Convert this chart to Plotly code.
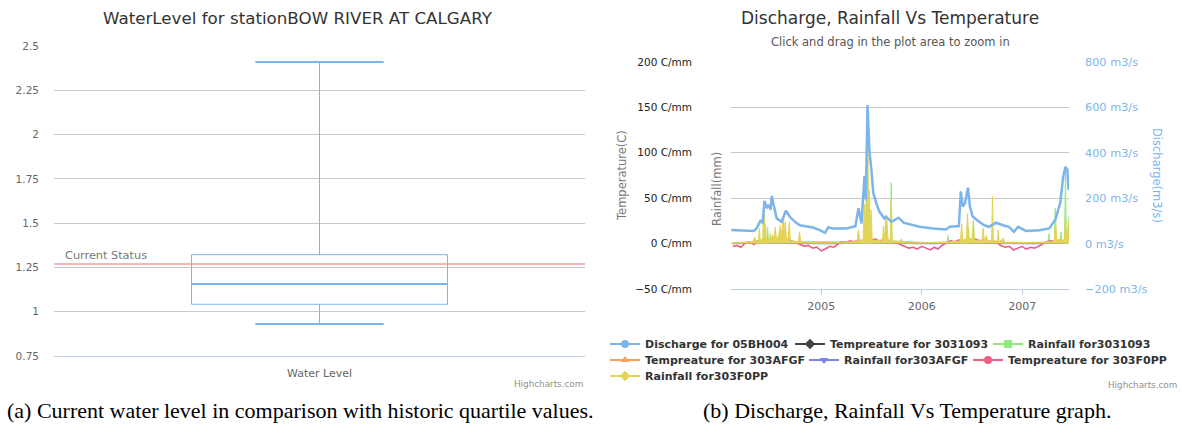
import plotly.graph_objects as go
import pandas as pd

# ---------------- Left chart: water level box plot ----------------
box_category = ["Water Level"]
wl_lower = [0.93]
wl_q1 = [1.042]
wl_median = [1.157]
wl_q3 = [1.322]
wl_upper = [2.41]
current_status = 1.27
wl_tickvals = [0.75, 1, 1.25, 1.5, 1.75, 2, 2.25, 2.5]
wl_ticktext = ["0.75", "1", "1.25", "1.5", "1.75", "2", "2.25", "2.5"]

# ---------------- Right chart: discharge / rainfall / temperature ----------------
discharge_dates = ["2004-02-09", "2004-04-30", "2004-05-11", "2004-05-26", "2004-06-02", "2004-06-09",
                   "2004-06-17", "2004-06-24", "2004-07-01", "2004-07-05", "2004-07-12", "2004-07-23",
                   "2004-08-10", "2004-08-25", "2004-09-09", "2004-09-27", "2004-10-15", "2004-11-10",
                   "2004-12-02", "2004-12-27", "2005-01-15", "2005-01-26", "2005-02-13", "2005-04-02",
                   "2005-05-05", "2005-05-16", "2005-05-27", "2005-06-07", "2005-06-12", "2005-06-18",
                   "2005-06-25", "2005-07-02", "2005-07-09", "2005-07-20", "2005-07-31", "2005-08-18",
                   "2005-08-24", "2005-09-13", "2005-10-09", "2005-10-27", "2005-11-29", "2005-12-24",
                   "2006-02-10", "2006-03-29", "2006-04-13", "2006-05-16", "2006-05-23", "2006-05-30",
                   "2006-06-07", "2006-06-18", "2006-06-25", "2006-07-05", "2006-07-24", "2006-08-15",
                   "2006-09-02", "2006-09-28", "2006-10-23", "2006-11-14", "2006-12-02", "2006-12-17",
                   "2007-01-15", "2007-03-04", "2007-04-09", "2007-05-01", "2007-05-19", "2007-05-30",
                   "2007-06-07", "2007-06-14", "2007-06-18"]
discharge_vals = [60, 56, 67, 104, 89, 188,
                  156, 170, 150, 210, 170, 111,
                  96, 145, 118, 96, 81, 74,
                  71, 59, 47, 71, 67, 67,
                  77, 156, 89, 299, 193, 610,
                  407, 326, 222, 178, 141, 111,
                  119, 96, 114, 92, 81, 74,
                  67, 62, 74, 77, 230, 163,
                  178, 247, 163, 119, 101, 81,
                  74, 92, 81, 74, 52, 74,
                  56, 59, 67, 104, 178, 296,
                  338, 326, 237]

temp_dates = ["2004-02-15", "2004-03-01", "2004-03-15", "2004-04-01", "2004-04-15", "2004-05-01",
              "2004-05-15", "2004-06-01", "2004-06-15", "2004-07-01", "2004-07-15", "2004-08-01",
              "2004-08-15", "2004-09-01", "2004-09-15", "2004-10-01", "2004-10-15", "2004-11-01",
              "2004-11-15", "2004-12-01", "2004-12-15",
              "2005-01-01", "2005-01-15", "2005-02-01", "2005-02-15", "2005-03-01", "2005-03-15",
              "2005-04-01", "2005-04-15", "2005-05-01", "2005-05-15", "2005-06-01", "2005-06-15",
              "2005-07-01", "2005-07-15", "2005-08-01", "2005-08-15", "2005-09-01", "2005-09-15",
              "2005-10-01", "2005-10-15", "2005-11-01", "2005-11-15", "2005-12-01", "2005-12-15",
              "2006-01-01", "2006-01-15", "2006-02-01", "2006-02-15", "2006-03-01", "2006-03-15",
              "2006-04-01", "2006-04-15", "2006-05-01", "2006-05-15", "2006-06-01", "2006-06-15",
              "2006-07-01", "2006-07-15", "2006-08-01", "2006-08-15", "2006-09-01", "2006-09-15",
              "2006-10-01", "2006-10-15", "2006-11-01", "2006-11-15", "2006-12-01", "2006-12-15",
              "2007-01-01", "2007-01-15", "2007-02-01", "2007-02-15", "2007-03-01", "2007-03-15",
              "2007-04-01", "2007-04-15", "2007-05-01", "2007-05-15", "2007-06-01", "2007-06-15"]
temp_303F0PP = [-3, -2, -4, 1, 2, -1, 3, 2, 4, 3, 4, 3, 4, 2, 3, 1, -1, -3, -2, -5, -4,
                -8, -6, -3, -4, -1, 2, 1, 3, 2, 4, 3, 5, 4, 5, 3, 4, 3, 2, 1, -1, -3, -5, -4, -6,
                -3, -5, -7, -4, -6, -2, 1, 3, 2, 4, 3, 5, 4, 5, 3, 4, 2, 3, 1, -2, -4, -3, -7, -5,
                -3, -6, -4, -5, -3, -1, 2, 3, 2, 4, 3, 4]

minor_dates = ["2004-02-15", "2004-06-01", "2004-09-01", "2004-12-01", "2005-03-01", "2005-06-01",
               "2005-09-01", "2005-12-01", "2006-03-01", "2006-06-01", "2006-09-01", "2006-12-01",
               "2007-03-01", "2007-06-15"]
temp_3031093 = [0, 1, 1, 0, 0, 1, 1, 0, 0, 1, 1, 0, 0, 1]
temp_303AFGF = [1, 1, 2, 1, 1, 2, 1, 1, 1, 2, 1, 1, 1, 2]
rain_303AFGF = [0, 1, 0, 0, 0, 1, 0, 0, 0, 1, 0, 0, 0, 1]

rain_3031093_dates = ["2004-02-09", "2004-06-03", "2004-06-06", "2004-06-09", "2004-06-17", "2004-06-20",
                      "2004-06-23", "2005-05-13", "2005-05-16", "2005-05-19", "2005-06-10", "2005-06-13",
                      "2005-06-16", "2005-08-21", "2005-08-24", "2005-08-27", "2005-09-09", "2005-09-12",
                      "2005-09-15", "2006-04-03", "2006-04-06", "2006-04-09", "2006-06-17", "2006-06-20",
                      "2006-06-23", "2006-07-05", "2006-07-08", "2006-07-11", "2007-04-05", "2007-04-08",
                      "2007-04-11", "2007-04-28", "2007-05-01", "2007-05-04", "2007-05-19", "2007-05-22",
                      "2007-05-25", "2007-06-04", "2007-06-07", "2007-06-10", "2007-06-17", "2007-06-20"]
rain_3031093 = [0, 0, 45, 0, 2, 18,
                2, 2, 14, 2, 4, 48,
                4, 3, 30, 3, 3, 67,
                3, 0, 9, 0, 2, 18,
                2, 2, 26, 2, 0, 11,
                0, 2, 39, 2, 2, 13,
                2, 3, 81, 5, 5, 30]

rain_303F0PP_dates = ["2004-02-09", "2004-03-15", "2004-04-20", "2004-04-30", "2004-05-04", "2004-05-08",
                      "2004-05-18", "2004-05-21", "2004-05-24", "2004-06-03", "2004-06-06", "2004-06-09",
                      "2004-06-12", "2004-06-15", "2004-06-27", "2004-06-30", "2004-07-03", "2004-07-08",
                      "2004-07-12", "2004-07-18", "2004-07-22", "2004-07-30", "2004-08-05", "2004-08-10",
                      "2004-08-17", "2004-08-20", "2004-08-23", "2004-08-27", "2004-09-03", "2004-09-07",
                      "2004-09-11", "2004-10-10", "2004-10-14", "2004-10-18", "2004-11-20", "2005-01-10",
                      "2005-03-10", "2005-04-25", "2005-05-12", "2005-05-16", "2005-05-20", "2005-06-02",
                      "2005-06-06", "2005-06-10", "2005-06-15", "2005-06-19", "2005-06-22", "2005-06-25",
                      "2005-06-28", "2005-07-01", "2005-07-05", "2005-08-05", "2005-08-12", "2005-08-15",
                      "2005-08-19", "2005-08-24", "2005-08-27", "2005-08-31", "2005-09-09", "2005-09-12",
                      "2005-09-15", "2005-10-10", "2005-10-20", "2005-10-25", "2005-12-01", "2006-03-01",
                      "2006-04-20", "2006-05-22", "2006-05-26", "2006-05-30", "2006-06-12", "2006-06-16",
                      "2006-06-20", "2006-07-03", "2006-07-07", "2006-07-11", "2006-08-08", "2006-08-12",
                      "2006-08-16", "2006-08-24", "2006-08-28", "2006-09-12", "2006-09-15", "2006-09-18",
                      "2006-10-03", "2006-10-06", "2006-10-09", "2006-10-25", "2006-10-29", "2006-12-01",
                      "2007-03-01", "2007-04-20", "2007-04-28", "2007-05-02", "2007-05-06", "2007-05-20",
                      "2007-05-24", "2007-06-04", "2007-06-07", "2007-06-10", "2007-06-14", "2007-06-18",
                      "2007-06-21"]
rain_303F0PP = [0.5, 1, 2, 3, 7, 3,
                3, 17, 4, 5, 47, 8,
                22, 5, 4, 11, 5, 9,
                5, 18, 6, 8, 20, 10,
                30, 12, 23, 6, 5, 24,
                3, 2, 13, 2, 1, 0.5,
                1, 2, 3, 15, 3, 4,
                43, 10, 12, 131, 20, 59,
                8, 37, 4, 3, 5, 20,
                8, 10, 28, 5, 3, 48,
                3, 2, 5, 1, 0.5, 1,
                2, 3, 22, 4, 5, 33,
                6, 5, 24, 4, 3, 17,
                3, 9, 3, 3, 52, 3,
                3, 15, 2, 6, 1, 0.5,
                1, 2, 3, 28, 4, 5,
                3, 4, 31, 6, 10, 25,
                20]

year_ticks = ["2005-01-01", "2006-01-01", "2007-01-01"]
x_range = ["2004-02-08", "2007-06-20"]

series_names = ["Discharge for 05BH004", "Tempreature for 3031093", "Rainfall for3031093",
                "Tempreature for 303AFGF", "Rainfall for303AFGF", "Tempreature for 303F0PP",
                "Rainfall for303F0PP"]
series_colors = ["#7cb5ec", "#434348", "#90ed7d", "#f7a35c", "#8085e9", "#f15c80", "#e4d354"]
series_symbols = ["circle", "diamond", "square", "triangle-up", "triangle-down", "circle", "diamond"]

W, H = 1182, 430
FONT = "DejaVu Sans"


def px_x(p):
    return p / W


def px_y(p):
    return 1 - p / H


# legend entry placement (text start x, row centre y) in pixels, Highcharts-like flow
legend_slots = [(645, 344), (830, 344), (1028, 344),
                (645, 360), (844, 360), (1008, 360),
                (645, 376)]
legend_ids = ["legend"] + ["legend%d" % i for i in range(2, 8)]

fig = go.Figure()

# ---- Box plot ----
box_width = 0.482
fig.add_trace(go.Box(
    x=[0], q1=wl_q1, median=wl_median, q3=wl_q3, lowerfence=wl_lower, upperfence=wl_upper,
    width=box_width, whiskerwidth=0.5, boxpoints=False,
    line=dict(color="#7cb5ec", width=1), fillcolor="rgba(255,255,255,0)",
    showlegend=False, hoverinfo="skip", xaxis="x", yaxis="y"))
# thicker median and whisker caps (Highcharts style)
fig.add_trace(go.Scatter(
    x=[-box_width / 2, box_width / 2, None, -box_width / 4, box_width / 4, None, -box_width / 4, box_width / 4],
    y=[wl_median[0], wl_median[0], None, wl_upper[0], wl_upper[0], None, wl_lower[0], wl_lower[0]],
    mode="lines", line=dict(color="#7cb5ec", width=2), showlegend=False, hoverinfo="skip",
    xaxis="x", yaxis="y"))

# ---- Right chart data traces (Highcharts series order) ----
data_traces = [
    go.Scatter(x=pd.to_datetime(minor_dates), y=temp_3031093, mode="lines",
               line=dict(color=series_colors[1], width=1)),
    go.Scatter(x=pd.to_datetime(rain_3031093_dates), y=rain_3031093, mode="lines",
               line=dict(color=series_colors[2], width=1), fill="tozeroy", fillcolor=series_colors[2]),
    go.Scatter(x=pd.to_datetime(minor_dates), y=temp_303AFGF, mode="lines",
               line=dict(color=series_colors[3], width=1.5)),
    go.Scatter(x=pd.to_datetime(minor_dates), y=rain_303AFGF, mode="lines",
               line=dict(color=series_colors[4], width=1)),
    go.Scatter(x=pd.to_datetime(temp_dates), y=temp_303F0PP, mode="lines",
               line=dict(color=series_colors[5], width=1.6)),
    go.Scatter(x=pd.to_datetime(rain_303F0PP_dates), y=rain_303F0PP, mode="lines",
               line=dict(color=series_colors[6], width=1), fill="tozeroy", fillcolor=series_colors[6]),
]
for t in data_traces:
    t.update(showlegend=False, xaxis="x2", yaxis="y2", hoverinfo="skip")
    fig.add_trace(t)

fig.add_trace(go.Scatter(x=pd.to_datetime(discharge_dates), y=discharge_vals, mode="lines",
                         line=dict(color=series_colors[0], width=2.5), showlegend=False,
                         xaxis="x2", yaxis="y3", hoverinfo="skip"))

# ---- Legend entries ----
for name, col, sym, lg in zip(series_names, series_colors, series_symbols, legend_ids):
    fig.add_trace(go.Scatter(x=[None], y=[None], mode="lines+markers", name=name,
                             line=dict(color=col, width=2), marker=dict(color=col, size=8, symbol=sym),
                             legend=lg, xaxis="x2", yaxis="y2"))

grid = "#c8c8c8"
axis_line = "#c0d0e0"
legend_common = dict(orientation="h", xanchor="left", yanchor="middle", bgcolor="rgba(0,0,0,0)",
                     font=dict(family=FONT, size=11, color="#333333", weight="bold"),
                     itemwidth=30, tracegroupgap=0, borderwidth=0)
legend_layout = {}
for lg, (tx, ty) in zip(legend_ids, legend_slots):
    legend_layout[lg] = dict(x=px_x(tx - 40), y=px_y(ty), **legend_common)

fig.update_layout(
    width=W, height=H, margin=dict(l=0, r=0, t=0, b=0, autoexpand=False),
    paper_bgcolor="white", plot_bgcolor="white",
    font=dict(family=FONT, color="#666666", size=11),
    hovermode=False,
    xaxis=dict(domain=[px_x(54), px_x(585)], range=[-0.5, 0.5], tickvals=[0], ticktext=box_category,
               showgrid=False, zeroline=False, showline=True, linecolor=axis_line, ticks="",
               ticklabelstandoff=7, tickfont=dict(size=11, color="#666666"), anchor="y", fixedrange=True),
    yaxis=dict(domain=[px_y(356), px_y(46)], range=[0.75, 2.5], tickvals=wl_tickvals, ticktext=wl_ticktext,
               showgrid=True, gridcolor=grid, zeroline=False, showline=False, ticks="",
               ticklabelstandoff=14, tickfont=dict(size=10.5, color="#666666"), anchor="x"),
    xaxis2=dict(domain=[px_x(731), px_x(1069)], type="date", range=x_range, tickvals=year_ticks,
                tickformat="%Y", showgrid=False, zeroline=False, showline=True, linecolor=axis_line,
                ticks="outside", ticklen=5, tickcolor=axis_line, ticklabelstandoff=2,
                tickfont=dict(size=11, color="#666666"), anchor="y2"),
    yaxis2=dict(domain=[px_y(289), px_y(62)], range=[-50, 200], dtick=50, ticksuffix=" C/mm",
                showgrid=True, gridcolor=grid, zeroline=False, showline=False, ticks="",
                ticklabelstandoff=38, tickfont=dict(size=10.5, color="#222222"), anchor="x2"),
    yaxis3=dict(overlaying="y2", side="right", range=[-200, 800], dtick=200, ticksuffix=" m3/s",
                showgrid=False, zeroline=False, showline=False, ticks="", ticklabelstandoff=15,
                tickfont=dict(size=11.3, color="#7cb5ec"), anchor="x2"),
    **legend_layout,
)

# current status line and label
fig.add_shape(type="line", xref="x domain", yref="y", x0=0, x1=1, y0=current_status, y1=current_status,
              line=dict(color="#f0a0a0", width=1.5))
fig.add_annotation(xref="x domain", yref="y", x=0.017, y=current_status, yanchor="bottom", xanchor="left",
                   text="Current Status", showarrow=False, yshift=0,
                   font=dict(size=11.3, color="#777777"))

annots = [
    dict(x=px_x(298), y=px_y(18), text="WaterLevel for stationBOW RIVER AT CALGARY",
         font=dict(size=16.7, color="#333333")),
    dict(x=px_x(890), y=px_y(18), text="Discharge, Rainfall Vs Temperature",
         font=dict(size=17, color="#333333")),
    dict(x=px_x(890), y=px_y(42), text="Click and drag in the plot area to zoom in",
         font=dict(size=11.5, color="#555555")),
    dict(x=px_x(622), y=px_y(175), text="Temperature(C)", textangle=-90,
         font=dict(size=11.5, color="#777777")),
    dict(x=px_x(717), y=px_y(189), text="Rainfall(mm)", textangle=-90,
         font=dict(size=11.5, color="#777777")),
    dict(x=px_x(1157), y=px_y(175), text="Discharge(m3/s)", textangle=90,
         font=dict(size=11.5, color="#7cb5ec")),
    dict(x=px_x(585), y=px_y(384), text="Highcharts.com", xanchor="right",
         font=dict(size=8.8, color="#909090")),
    dict(x=px_x(1179), y=px_y(385), text="Highcharts.com", xanchor="right",
         font=dict(size=8.8, color="#909090")),
    dict(x=px_x(300), y=px_y(410), text="(a) Current water level in comparison with historic quartile values.",
         font=dict(size=22, color="#000000", family="Liberation Serif")),
    dict(x=px_x(907), y=px_y(410), text="(b) Discharge, Rainfall Vs Temperature graph.",
         font=dict(size=22, color="#000000", family="Liberation Serif")),
]
for a in annots:
    a.setdefault("xanchor", "center")
    fig.add_annotation(xref="paper", yref="paper", yanchor="middle", showarrow=False, **a)

fig.write_html(
    "out.html",
    config={"displayModeBar": False, "staticPlot": True},
    post_script="document.body.style.margin='0';document.body.style.padding='0';"
                "document.body.style.overflow='hidden';",
)
